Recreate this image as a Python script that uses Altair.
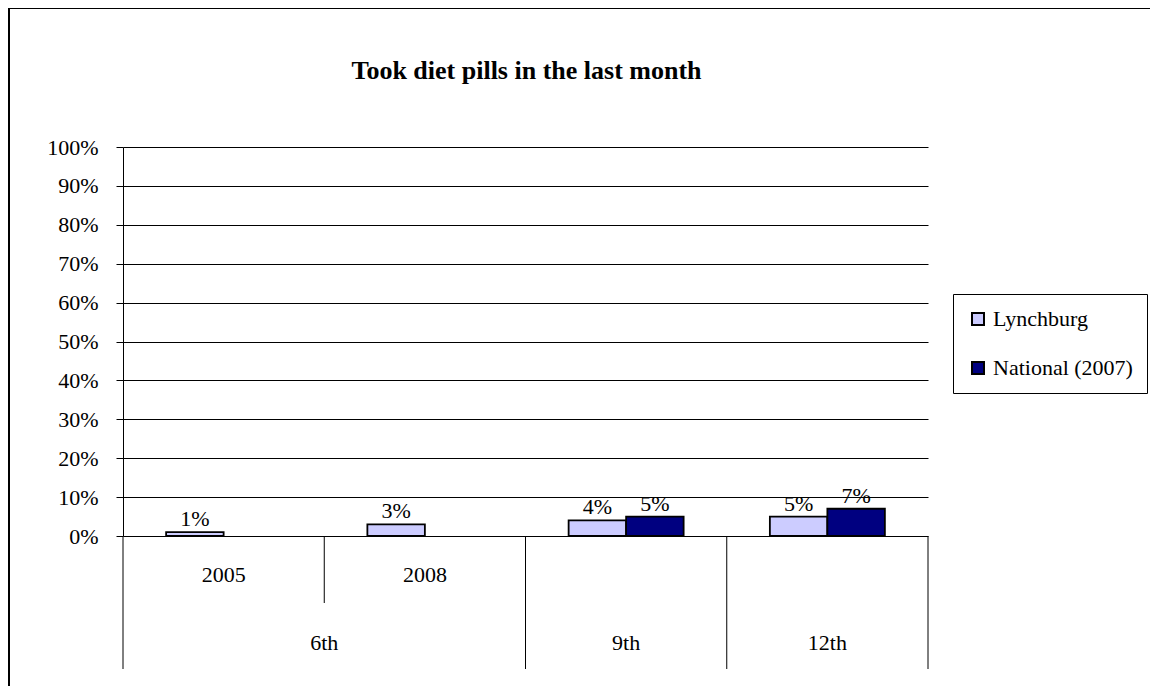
import altair as alt
import pandas as pd

# ---- data ----
chart_title = "Took diet pills in the last month"
categories = ["6th 2005", "6th 2008", "9th", "12th"]
year_labels = ["2005", "2008", "", ""]
series_names = ["Lynchburg", "National (2007)"]
lynchburg = [0.01, 0.03, 0.04, 0.05]
national = [None, None, 0.05, 0.07]
group_names = ["6th", "9th", "12th"]
group_anchor = ["6th 2008", "9th", "12th"]
colors = ["#CCCCFF", "#000080"]
y_ticks = [0.0, 0.1, 0.2, 0.3, 0.4, 0.5, 0.6, 0.7, 0.8, 0.9, 1.0]

rows = []
for c, l, n in zip(categories, lynchburg, national):
    rows.append({"category": c, "series": series_names[0], "value": l})
    if n is not None:
        rows.append({"category": c, "series": series_names[1], "value": n})
bars_df = pd.DataFrame(rows)

year_df = pd.DataFrame({"category": categories, "label": year_labels})
year_df = year_df[year_df["label"] != ""]
group_df = pd.DataFrame({"category": group_anchor, "label": group_names})

W, H = 805, 389
FONT = "Liberation Serif"

x_scale = alt.Scale(domain=categories, paddingInner=0, paddingOuter=0)
xo_scale = alt.Scale(domain=series_names, paddingInner=0, paddingOuter=0.75)

y_axis = alt.Axis(
    format=".0%", values=y_ticks, tickCount=11, title="", tickSize=7,
    labelPadding=18, labelOverlap=False, grid=True,
    gridColor="black", gridWidth=1,
    domainColor="black", tickColor="black",
)
y_enc = alt.Y("value:Q", scale=alt.Scale(domain=[0, 1], nice=False), axis=y_axis)

base = alt.Chart(bars_df)

bars = base.mark_bar(stroke="black", strokeWidth=1.8).encode(
    x=alt.X("category:N", scale=x_scale, axis=None),
    xOffset=alt.XOffset("series:N", scale=xo_scale),
    y=y_enc,
    color=alt.Color(
        "series:N",
        scale=alt.Scale(domain=series_names, range=colors),
        legend=alt.Legend(
            title=None, orient="none", legendX=830, legendY=147,
            strokeColor="black", fillColor="white",
            padding=14, rowPadding=27, symbolType="square", symbolSize=144,
            symbolStrokeColor="black", symbolStrokeWidth=2,
            labelFont=FONT, labelFontSize=22, labelColor="black", labelOffset=4,
        ),
    ),
)

value_labels = base.mark_text(
    font=FONT, fontSize=22, color="black", baseline="alphabetic", dy=-6
).encode(
    x=alt.X("category:N", scale=x_scale, axis=None),
    xOffset=alt.XOffset("series:N", scale=xo_scale),
    y=y_enc,
    text=alt.Text("value:Q", format=".0%"),
)

# category-axis separators (Excel style multi-level axis)
long_sep = alt.Chart(pd.DataFrame({"category": ["6th 2005", "9th", "12th"]})).mark_rule(
    color="black", strokeWidth=1
).encode(
    x=alt.X("category:N", bandPosition=0, scale=x_scale, axis=None),
    y=alt.value(H), y2=alt.value(H + 133),
)
right_sep = alt.Chart(pd.DataFrame({"category": ["12th"]})).mark_rule(
    color="black", strokeWidth=1
).encode(
    x=alt.X("category:N", bandPosition=1, scale=x_scale, axis=None),
    y=alt.value(H), y2=alt.value(H + 133),
)
short_sep = alt.Chart(pd.DataFrame({"category": ["6th 2008"]})).mark_rule(
    color="black", strokeWidth=1
).encode(
    x=alt.X("category:N", bandPosition=0, scale=x_scale, axis=None),
    y=alt.value(H), y2=alt.value(H + 67),
)

year_text = alt.Chart(year_df).mark_text(
    font=FONT, fontSize=22, color="black", baseline="alphabetic"
).encode(
    x=alt.X("category:N", bandPosition=0.5, scale=x_scale, axis=None),
    y=alt.value(H + 46),
    text="label:N",
)

group6 = alt.Chart(group_df[group_df["label"] == "6th"]).mark_text(
    font=FONT, fontSize=22, color="black", baseline="alphabetic"
).encode(
    x=alt.X("category:N", bandPosition=0, scale=x_scale, axis=None),
    y=alt.value(H + 114),
    text="label:N",
)
group_rest = alt.Chart(group_df[group_df["label"] != "6th"]).mark_text(
    font=FONT, fontSize=22, color="black", baseline="alphabetic"
).encode(
    x=alt.X("category:N", bandPosition=0.5, scale=x_scale, axis=None),
    y=alt.value(H + 114),
    text="label:N",
)

# chart title (drawn as text so the outer border does not push it away)
title_text = alt.Chart(pd.DataFrame({"t": [chart_title]})).mark_text(
    font=FONT, fontSize=26, fontWeight="bold", color="black",
    baseline="alphabetic", align="center",
).encode(
    x=alt.value(W / 2 + 1), y=alt.value(-68), text="t:N",
)

# outer chart border
border = alt.Chart(pd.DataFrame({"b": [0]})).mark_rect(
    fill="white", fillOpacity=0, stroke="black", strokeWidth=2
).encode(
    x=alt.value(-114), x2=alt.value(1400),
    y=alt.value(-139), y2=alt.value(900),
)

chart = alt.layer(
    border, bars, value_labels, long_sep, right_sep, short_sep,
    year_text, group6, group_rest, title_text,
).properties(
    width=W, height=H,
    autosize=alt.AutoSizeParams(type="none"),
    padding={"left": 115, "top": 139, "right": 222, "bottom": 150},
).configure_view(stroke=None).configure_axis(
    labelFont=FONT, labelFontSize=22, labelColor="black", labelOverlap=False,
).configure_legend(strokeWidth=1)

chart.save("out.html", embed_options={"renderer": "svg", "actions": False})
